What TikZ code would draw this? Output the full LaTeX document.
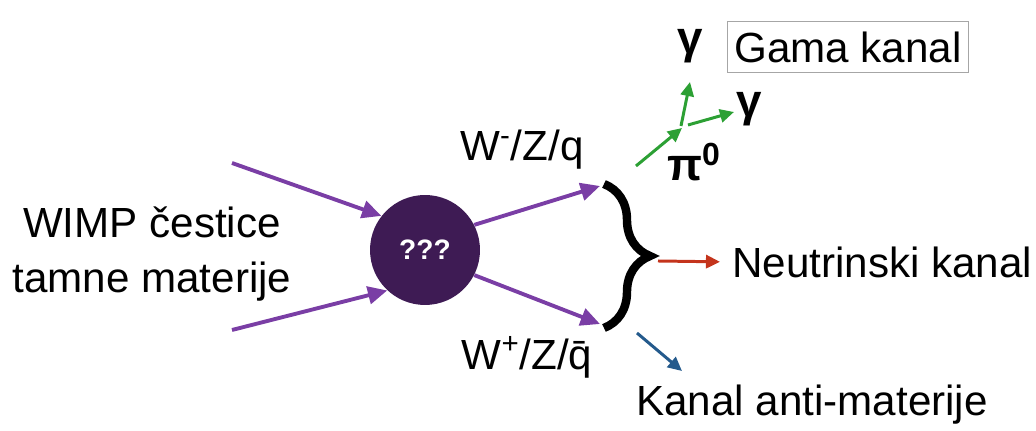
\documentclass[tikz,border=0pt]{standalone}
\usepackage{fontspec}
\setmainfont{Liberation Sans}
\usetikzlibrary{positioning, arrows.meta, decorations.pathreplacing}

\definecolor{wimpdark}{RGB}{62,27,84}
\definecolor{wimparrow}{RGB}{122,62,165}
\definecolor{gamagreen}{RGB}{44,160,52}
\definecolor{nured}{RGB}{196,52,28}
\definecolor{antiblue}{RGB}{36,90,140}

\begin{document}
\begin{tikzpicture}[x=0.02cm, y=-0.02cm,
        lbl/.style={font=\fontsize{24}{31}\selectfont, inner sep=0pt},
        greek/.style={font=\fontsize{26}{30}\selectfont\bfseries, inner sep=0pt},
        blob/.style={circle, fill=wimpdark, minimum size=2.2cm, inner sep=0pt, text=white, font=\fontsize{16}{18}\selectfont\bfseries},
        flow/.style={draw=wimparrow, line width=2.2pt, -{Triangle[length=11pt, width=10pt, fill=wimparrow]}},
        decay/.style={line width=1.7pt, -{Triangle[length=8pt, width=7.5pt]}},
        bracebar/.style={decorate, decoration={brace, amplitude=0.92cm}, line width=4.8pt},
    ]
    \useasboundingbox (0,0) rectangle (1036,431);

    % Annihilation
    \node[lbl, align=center] (wimp) at (152,254) {WIMP čestice\\tamne materije};
    \node[blob] (ann) at (425,250) {???};
    \coordinate (in1) at (232,163);
    \coordinate (in2) at (232,330);
    \draw[flow] (in1) -- (ann.142);
    \draw[flow] (in2) -- (ann.227);

    % Products
    \coordinate (btop) at (600,186);
    \coordinate (bbot) at (600,324);
    \draw[flow] (ann.27) -- (btop);
    \draw[flow] (ann.-27) -- (bbot);
    \node[lbl] (wminus) at (522,150) {W\textsuperscript{-}/Z/q};
    \node[lbl] (wplus) at (527,357) {W\textsuperscript{+}/Z/\=q};
    \draw[bracebar] (604,184) -- (604,328);
    \coordinate (btip) at (658,261);

    % Gamma channel
    \coordinate (g0) at (636,166);
    \coordinate (pv) at (682,128);
    \coordinate (gup) at (690,82);
    \coordinate (grt) at (734,112);
    \node[greek] (pi) at (694,162) {π\textsuperscript{0}};
    \node[greek] (gam1) at (690,46) {γ};
    \node[greek] (gam2) at (749,109) {γ};
    \draw[decay, gamagreen] (g0) -- (pv);
    \draw[decay, gamagreen] (681,126) -- (gup);
    \draw[decay, gamagreen] (688,125) -- (grt);
    \node[lbl, draw=gray!70, line width=1pt, minimum width=4.82cm, minimum height=1.02cm] (gama) at (848,47) {Gama kanal};

    % Neutrino and antimatter channels
    \node[lbl, anchor=west] (neu) at (732,262) {Neutrinski kanal};
    \draw[decay, nured, shorten >=0.24cm] (btip) -- (neu.west);
    \node[lbl] (anti) at (812,405) {Kanal anti-materije};
    \coordinate (a0) at (637,333);
    \draw[decay, antiblue] (a0) -- (682,371);
\end{tikzpicture}
\end{document}
